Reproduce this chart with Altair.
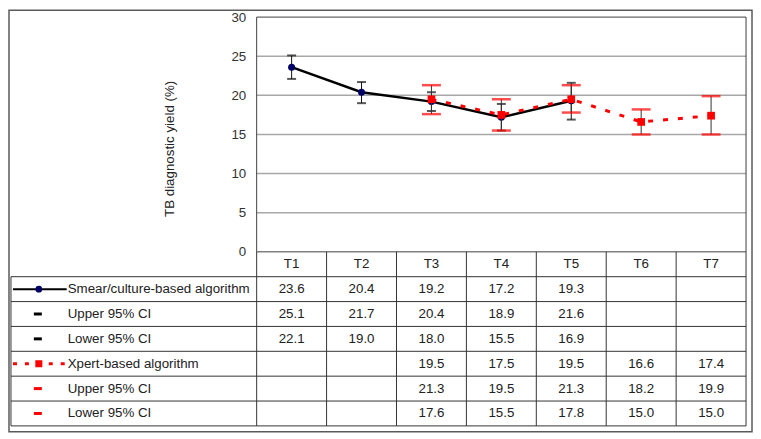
import altair as alt
import pandas as pd

# ---------------- data ----------------
periods = ["T1", "T2", "T3", "T4", "T5", "T6", "T7"]

smear_periods = ["T1", "T2", "T3", "T4", "T5"]
smear_yield = [23.6, 20.4, 19.2, 17.2, 19.3]
smear_upper = [25.1, 21.7, 20.4, 18.9, 21.6]
smear_lower = [22.1, 19.0, 18.0, 15.5, 16.9]

xpert_periods = ["T3", "T4", "T5", "T6", "T7"]
xpert_yield = [19.5, 17.5, 19.5, 16.6, 17.4]
xpert_upper = [21.3, 19.5, 21.3, 18.2, 19.9]
xpert_lower = [17.6, 15.5, 17.8, 15.0, 15.0]

row_keys = ["h", "r1", "r2", "r3", "r4", "r5", "r6"]
row_labels = ["Smear/culture-based algorithm", "Upper 95% CI", "Lower 95% CI",
              "Xpert-based algorithm", "Upper 95% CI", "Lower 95% CI"]

y_title = "TB diagnostic yield (%)"
y_ticks = [0, 5, 10, 15, 20, 25, 30]
grid_values = [5, 10, 15, 20, 25]

# ---------------- layout (pixels inside the view) ----------------
W, H = 747, 424
PL, PR, PT, PB = 249, 741, 7, 243     # plot area
TT, TB = 243, 418                      # table top / bottom
FONT = "Liberation Sans"
FS = 13.4
TXT = "#222222"
RED = "#ff0000"

xs = alt.Scale(type="band", domain=periods, range=[PL, PR], paddingInner=0, paddingOuter=0)
ys = alt.Scale(type="linear", domain=[0, 30], range=[PB, PT], nice=False, zero=True)
ts = alt.Scale(type="band", domain=row_keys, range=[TT, TB], paddingInner=0, paddingOuter=0)

y_axis = alt.Axis(values=y_ticks, offset=-PL, ticks=False, tickSize=0, domain=False, grid=False,
                  labelPadding=11, labelFont=FONT, labelFontSize=FS, labelColor="#333333",
                  title=y_title, titleX=-88, titleY=139, titleAngle=-90, titleAlign="center",
                  titleBaseline="middle", titleFont=FONT, titleFontSize=FS,
                  titleFontWeight="normal", titleColor="#222222")

def X(field="period", bp=None):
    if bp is None:
        return alt.X(f"{field}:N", scale=xs, axis=None)
    return alt.X(f"{field}:N", scale=xs, axis=None, bandPosition=bp)

def Y(field):
    return alt.Y(f"{field}:Q", scale=ys, axis=y_axis)

smear_df = pd.DataFrame({"period": smear_periods, "v": smear_yield,
                         "hi": smear_upper, "lo": smear_lower})
xpert_df = pd.DataFrame({"period": xpert_periods, "v": xpert_yield,
                         "hi": xpert_upper, "lo": xpert_lower})
grid_df = pd.DataFrame({"g": grid_values})
one = pd.DataFrame({"a": [0]})

# ---------------- plot ----------------
grid = alt.Chart(grid_df).mark_rule(color="#a8a8a8", strokeWidth=1.5).encode(
    y=Y("g"), x=alt.value(PL), x2=alt.value(PR))
border = alt.Chart(one).mark_rect(fill=None, stroke="#404040", strokeWidth=1).encode(
    x=alt.value(PL), x2=alt.value(PR), y=alt.value(PT), y2=alt.value(PB))

s_err = alt.Chart(smear_df).mark_rule(color="#111111", strokeWidth=1).encode(
    x=X(), y=Y("lo"), y2="hi:Q")
s_cap_hi = alt.Chart(smear_df).mark_tick(color="#111111", size=9, thickness=2).encode(x=X(), y=Y("hi"))
s_cap_lo = alt.Chart(smear_df).mark_tick(color="#111111", size=9, thickness=2).encode(x=X(), y=Y("lo"))
s_line = alt.Chart(smear_df).mark_line(color="#000000", strokeWidth=2.5).encode(x=X(), y=Y("v"))
s_pts = alt.Chart(smear_df).mark_point(shape="circle", filled=True, size=50, color="#000066",
                                       opacity=1).encode(x=X(), y=Y("v"))

x_line = alt.Chart(xpert_df).mark_line(color=RED, strokeWidth=3, strokeDash=[5, 10]).encode(
    x=X(), y=Y("v"))
x_err = alt.Chart(xpert_df).mark_rule(color="#333333", strokeWidth=1).encode(
    x=X(), y=Y("lo"), y2="hi:Q")
x_cap_hi = alt.Chart(xpert_df).mark_tick(color=RED, size=19, thickness=2.5).encode(x=X(), y=Y("hi"))
x_cap_lo = alt.Chart(xpert_df).mark_tick(color=RED, size=19, thickness=2.5).encode(x=X(), y=Y("lo"))
x_pts = alt.Chart(xpert_df).mark_point(shape="square", filled=True, size=60, color=RED,
                                       opacity=1).encode(x=X(), y=Y("v"))

plot = alt.layer(grid, s_err, s_cap_hi, s_cap_lo, s_line, s_pts,
                 x_line, x_err, x_cap_hi, x_cap_lo, x_pts, border)

# ---------------- table ----------------
def TY(bp=0.5):
    return alt.Y("row:N", scale=ts, axis=None, bandPosition=bp)

cells = []
for p in periods:
    cells.append({"period": p, "row": "h", "text": p})
for key, vals in zip(["r1", "r2", "r3"], [smear_yield, smear_upper, smear_lower]):
    for p, v in zip(smear_periods, vals):
        cells.append({"period": p, "row": key, "text": f"{v:.1f}"})
for key, vals in zip(["r4", "r5", "r6"], [xpert_yield, xpert_upper, xpert_lower]):
    for p, v in zip(xpert_periods, vals):
        cells.append({"period": p, "row": key, "text": f"{v:.1f}"})
cells_df = pd.DataFrame(cells)
labels_df = pd.DataFrame({"row": row_keys[1:], "label": row_labels})
periods_df = pd.DataFrame({"period": periods})

h_lines = alt.Chart(pd.DataFrame({"row": row_keys[1:]})).mark_rule(
    color="#333333", strokeWidth=1).encode(y=TY(0), x=alt.value(2), x2=alt.value(PR))
h_bottom = alt.Chart(pd.DataFrame({"row": ["r6"]})).mark_rule(
    color="#333333", strokeWidth=1).encode(y=TY(1), x=alt.value(2), x2=alt.value(PR))
v_lines = alt.Chart(periods_df).mark_rule(color="#333333", strokeWidth=1).encode(
    x=X(bp=0), y=alt.value(TT), y2=alt.value(TB))
v_right = alt.Chart(pd.DataFrame({"period": ["T7"]})).mark_rule(
    color="#333333", strokeWidth=1).encode(x=X(bp=1), y=alt.value(TT), y2=alt.value(TB))
v_left = alt.Chart(pd.DataFrame({"row": ["r1"]})).mark_rule(
    color="#333333", strokeWidth=1).encode(y=TY(0), y2=alt.value(TB), x=alt.value(2))

cell_text = alt.Chart(cells_df).mark_text(font=FONT, fontSize=FS, color=TXT, align="center",
                                          baseline="middle").encode(
    x=X(), y=TY(0.5), text="text:N")
label_text = alt.Chart(labels_df).mark_text(font=FONT, fontSize=FS, color=TXT, align="left",
                                            baseline="middle").encode(
    x=alt.value(59), y=TY(0.5), text="label:N")

# legend keys in the first column
k1_line = alt.Chart(pd.DataFrame({"row": ["r1"]})).mark_rule(color="#000000", strokeWidth=2).encode(
    y=TY(0.5), x=alt.value(4), x2=alt.value(58))
k1_pt = alt.Chart(pd.DataFrame({"row": ["r1"]})).mark_point(
    shape="circle", filled=True, size=45, color="#000066", opacity=1).encode(y=TY(0.5), x=alt.value(30))
k_black = alt.Chart(pd.DataFrame({"row": ["r2", "r3"]})).mark_rule(color="#000000", strokeWidth=3).encode(
    y=TY(0.5), x=alt.value(25), x2=alt.value(33))
k4_line = alt.Chart(pd.DataFrame({"row": ["r4"]})).mark_rule(
    color=RED, strokeWidth=3, strokeDash=[4, 8]).encode(y=TY(0.5), x=alt.value(4), x2=alt.value(58))
k4_pt = alt.Chart(pd.DataFrame({"row": ["r4"]})).mark_point(
    shape="square", filled=True, size=50, color=RED, opacity=1).encode(y=TY(0.5), x=alt.value(30))
k_red = alt.Chart(pd.DataFrame({"row": ["r5", "r6"]})).mark_rule(color=RED, strokeWidth=3).encode(
    y=TY(0.5), x=alt.value(25), x2=alt.value(33))

table = alt.layer(h_lines, h_bottom, v_lines, v_right, v_left, cell_text, label_text,
                  k1_line, k1_pt, k_black, k4_line, k4_pt, k_red)

chart = alt.layer(plot, table).resolve_scale(y="independent").properties(
    width=W, height=H, padding=1, autosize=alt.AutoSizeParams(type="none"),
    background="white"
).configure_view(stroke="#5a5a5a", strokeWidth=1.5)

chart.save("out.html", embed_options={"renderer": "svg", "actions": False})
